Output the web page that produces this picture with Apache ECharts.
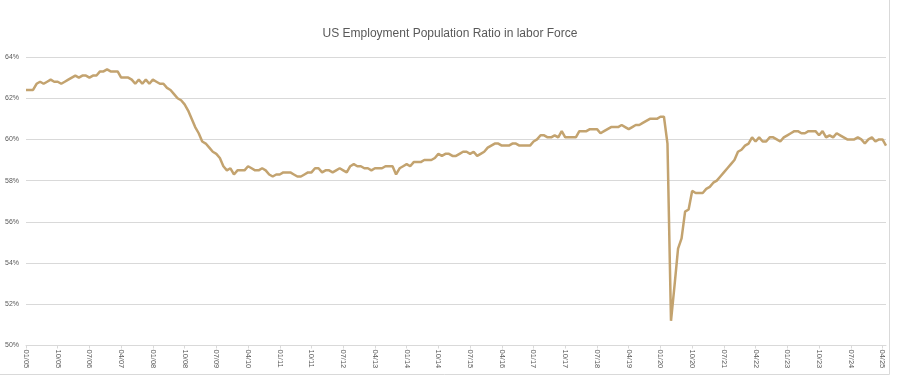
<!DOCTYPE html>
<html>
<head>
<meta charset="utf-8">
<script src="https://cdn.jsdelivr.net/npm/echarts@6/dist/echarts.min.js"></script>
<style>
  html, body { margin: 0; padding: 0; background: #fff; }
  #chart { width: 900px; height: 377px; }
</style>
</head>
<body>
<div id="chart"></div>
<script>
// monthly series, Jan 2005 - May 2025
const startYear = 2005
const ratio = [
  62.4, 62.4, 62.4, 62.7, 62.8, 62.7, 62.8, 62.9, 62.8, 62.8, 62.7, 62.8, // 2005
  62.9, 63.0, 63.1, 63.0, 63.1, 63.1, 63.0, 63.1, 63.1, 63.3, 63.3, 63.4, // 2006
  63.3, 63.3, 63.3, 63.0, 63.0, 63.0, 62.9, 62.7, 62.9, 62.7, 62.9, 62.7, // 2007
  62.9, 62.8, 62.7, 62.7, 62.5, 62.4, 62.2, 62.0, 61.9, 61.7, 61.4, 61.0, // 2008
  60.6, 60.3, 59.9, 59.8, 59.6, 59.4, 59.3, 59.1, 58.7, 58.5, 58.6, 58.3, // 2009
  58.5, 58.5, 58.5, 58.7, 58.6, 58.5, 58.5, 58.6, 58.5, 58.3, 58.2, 58.3, // 2010
  58.3, 58.4, 58.4, 58.4, 58.3, 58.2, 58.2, 58.3, 58.4, 58.4, 58.6, 58.6, // 2011
  58.4, 58.5, 58.5, 58.4, 58.5, 58.6, 58.5, 58.4, 58.7, 58.8, 58.7, 58.7, // 2012
  58.6, 58.6, 58.5, 58.6, 58.6, 58.6, 58.7, 58.7, 58.7, 58.3, 58.6, 58.7, // 2013
  58.8, 58.7, 58.9, 58.9, 58.9, 59.0, 59.0, 59.0, 59.1, 59.3, 59.2, 59.3, // 2014
  59.3, 59.2, 59.2, 59.3, 59.4, 59.4, 59.3, 59.4, 59.2, 59.3, 59.4, 59.6, // 2015
  59.7, 59.8, 59.8, 59.7, 59.7, 59.7, 59.8, 59.8, 59.7, 59.7, 59.7, 59.7, // 2016
  59.9, 60.0, 60.2, 60.2, 60.1, 60.1, 60.2, 60.1, 60.4, 60.1, 60.1, 60.1, // 2017
  60.1, 60.4, 60.4, 60.4, 60.5, 60.5, 60.5, 60.3, 60.4, 60.5, 60.6, 60.6, // 2018
  60.6, 60.7, 60.6, 60.5, 60.6, 60.7, 60.7, 60.8, 60.9, 61.0, 61.0, 61.0, // 2019
  61.1, 61.1, 59.8, 51.2, 52.9, 54.7, 55.2, 56.5, 56.6, 57.5, 57.4, 57.4, // 2020
  57.4, 57.6, 57.7, 57.9, 58.0, 58.2, 58.4, 58.6, 58.8, 59.0, 59.4, 59.5, // 2021
  59.7, 59.8, 60.1, 59.9, 60.1, 59.9, 59.9, 60.1, 60.1, 60.0, 59.9, 60.1, // 2022
  60.2, 60.3, 60.4, 60.4, 60.3, 60.3, 60.4, 60.4, 60.4, 60.2, 60.4, 60.1, // 2023
  60.2, 60.1, 60.3, 60.2, 60.1, 60.0, 60.0, 60.0, 60.1, 60.0, 59.8, 60.0, // 2024
  60.1, 59.9, 60.0, 60.0, 59.7, // 2025
]
// y axis ticks
const yTicks = [50, 52, 54, 56, 58, 60, 62, 64]

// month labels MM/YY
const months = ratio.map((_, i) => {
  const m = (i % 12) + 1
  const y = (startYear + Math.floor(i / 12)) % 100
  return String(m).padStart(2, '0') + '/' + String(y).padStart(2, '0')
})

const textColor = '#595959'
const gridColor = '#d9d9d9'
const lineColor = '#c3a36f'
const font = 'Liberation Sans'

const chart = echarts.init(document.getElementById('chart'))

chart.setOption({
  animation: false,
  title: {
    text: 'US Employment Population Ratio in labor Force',
    left: 'center',
    top: 23,
    textStyle: { fontFamily: font, fontSize: 12, fontWeight: 'normal', color: textColor },
  },
  grid: { left: 26, right: 14, top: 57, bottom: 31.5 },
  xAxis: {
    type: 'category',
    data: months,
    boundaryGap: false,
    axisLine: { lineStyle: { color: gridColor, width: 1 } },
    axisTick: { show: true, interval: 8, length: 3, lineStyle: { color: gridColor } },
    axisLabel: {
      interval: 8,
      rotate: -90,
      margin: 4,
      fontFamily: font,
      fontSize: 7.5,
      color: textColor,
    },
    splitLine: { show: false },
  },
  yAxis: {
    type: 'value',
    min: yTicks[0],
    max: yTicks[yTicks.length - 1],
    interval: 2,
    axisLine: { show: false },
    axisTick: { show: false },
    axisLabel: {
      formatter: '{value}%',
      margin: 7,
      fontFamily: font,
      fontSize: 7,
      color: textColor,
    },
    splitLine: { lineStyle: { color: gridColor, width: 1 } },
  },
  series: [
    {
      type: 'line',
      data: ratio,
      showSymbol: false,
      lineStyle: { color: lineColor, width: 2.5 },
    },
  ],
  graphic: [
    {
      type: 'rect',
      shape: { x: -1, y: -1, width: 890.5, height: 375.5 },
      style: { fill: 'none', stroke: gridColor, lineWidth: 1 },
      silent: true,
    },
  ],
})
</script>
</body>
</html>
